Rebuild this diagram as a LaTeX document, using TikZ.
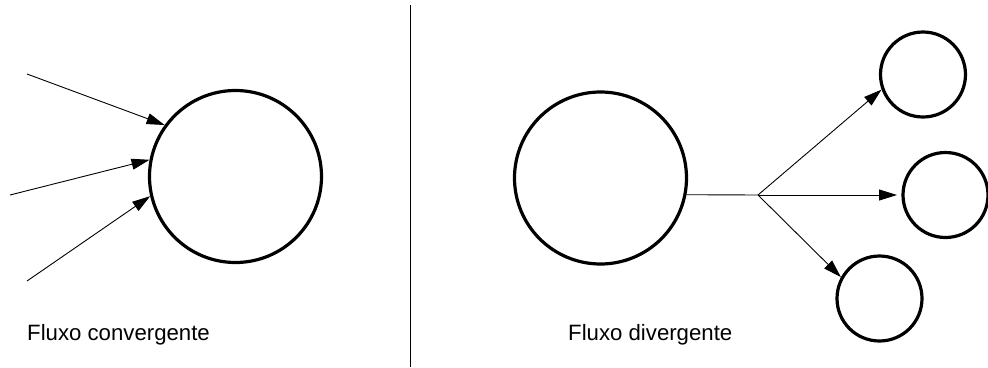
\documentclass[tikz,border=0pt]{standalone}
\usepackage{fontspec}
\setmainfont{Liberation Sans}
\usetikzlibrary{arrows.meta}
\begin{document}
\begin{tikzpicture}[x=1pt,y=-1pt,
  bigc/.style={circle,draw,line width=3.2pt,minimum size=172pt,inner sep=0pt},
  smallc/.style={circle,draw,line width=3.2pt,minimum size=85pt,inner sep=0pt},
  flow/.style={line width=0.9pt,-{Triangle[length=18pt,width=11pt]}},
  lbl/.style={anchor=base west,inner sep=0pt,font=\fontsize{22.2}{24}\selectfont}]
\useasboundingbox (0,0) rectangle (988,367);
% left
\node[bigc] (L) at (235.5,176.5) {};
\coordinate (a1) at (27,74);
\coordinate (a2) at (10,195);
\coordinate (a3) at (27,281);
\draw[flow] (a1) -- (L.144);
\draw[flow] (a2) -- (L.169);
\draw[flow] (a3) -- (L.193);
\node[lbl] (t1) at (27,340) {Fluxo convergente};
% divider
\coordinate (d1) at (410,5);
\coordinate (d2) at (410,367);
\draw[line width=0.9pt] (d1) -- (d2);
% right
\node[bigc] (R) at (600.5,178) {};
\node[smallc] (T) at (923,74.5) {};
\node[smallc] (M) at (945.5,195) {};
\node[smallc] (B) at (879.5,298.5) {};
\coordinate (J) at (758,195);
\coordinate (mt) at (897,195);
\draw[line width=0.9pt] (R.-11) -- (J);
\draw[flow] (J) -- (T.200);
\draw[flow] (J) -- (mt);
\draw[flow] (J) -- (B.151);
\node[lbl] (t2) at (568,340) {Fluxo divergente};
\end{tikzpicture}
\end{document}
